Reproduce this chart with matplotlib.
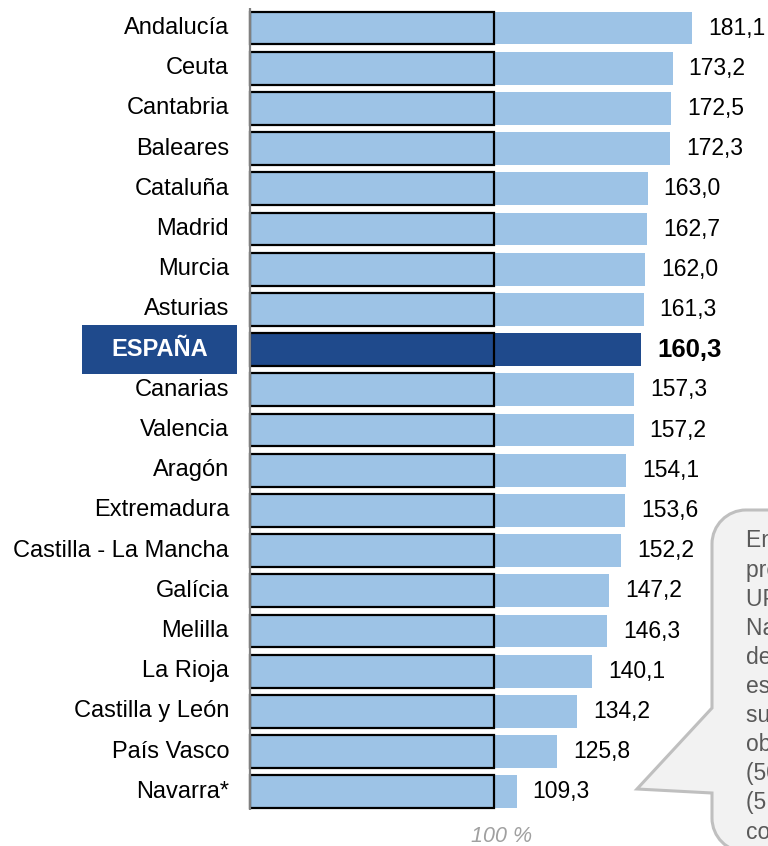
import matplotlib
matplotlib.use("Agg")
import matplotlib.pyplot as plt
from matplotlib.patches import Rectangle, PathPatch
from matplotlib.path import Path

plt.rcParams['font.family'] = ['Liberation Sans', 'DejaVu Sans']

regions = ["Andalucía", "Ceuta", "Cantabria", "Baleares", "Cataluña", "Madrid",
           "Murcia", "Asturias", "ESPAÑA", "Canarias", "Valencia", "Aragón",
           "Extremadura", "Castilla - La Mancha", "Galícia", "Melilla", "La Rioja",
           "Castilla y León", "País Vasco", "Navarra*"]
values = [181.1, 173.2, 172.5, 172.3, 163.0, 162.7, 162.0, 161.3, 160.3, 157.3,
          157.2, 154.1, 153.6, 152.2, 147.2, 146.3, 140.1, 134.2, 125.8, 109.3]
highlight = "ESPAÑA"
reference_value = 100
reference_label = "100 %"
callout_lines = ["En Navarra, los", "precios de la", "UPNA (Universidad",
                 "Navarra) son los", "de primera matrícula", "establecidos por",
                 "su Gobierno, que", "obliga a pagar", "(50,0 %)", "(5,0 %)",
                 "con respecto"]

LIGHT = "#9DC3E6"
DARK = "#1F4A8C"

W, H = 768, 846
PX_PER_UNIT = 2.44
X0 = 250
ROW0 = 28
PITCH = 40.2

fig = plt.figure(figsize=(W / 100, H / 100), dpi=100)
ax = fig.add_axes([0, 0, 1, 1])
ax.set_xlim(-X0 / PX_PER_UNIT, (W - X0) / PX_PER_UNIT)
ax.set_ylim((H - ROW0) / PITCH, -ROW0 / PITCH)
ax.axis('off')

h = 0.82
n = len(regions)
ypos = list(range(n))
colors = [DARK if r == highlight else LIGHT for r in regions]
ax.barh(ypos, values, height=h, color=colors, edgecolor='none', zorder=1)

for i, (r, v) in enumerate(zip(regions, values)):
    ax.add_patch(Rectangle((0, i - h / 2), reference_value, h, facecolor='none',
                           edgecolor='black', lw=1.6, zorder=2))
    lab = f"{v:.1f}".replace('.', ',')
    if r == highlight:
        ax.text(v + 16 / PX_PER_UNIT, i, lab, ha='left', va='center',
                fontsize=18.5, fontweight='bold', color='black')
        x_left = (82 - X0) / PX_PER_UNIT
        x_right = (237 - X0) / PX_PER_UNIT
        bh = 49 / PITCH
        ax.add_patch(Rectangle((x_left, i - bh / 2), x_right - x_left, bh,
                               facecolor=DARK, edgecolor='none', zorder=2,
                               clip_on=False))
        ax.text((x_left + x_right) / 2, i, r, ha='center', va='center',
                fontsize=17, fontweight='bold', color='white', zorder=3)
    else:
        ax.text(v + 16 / PX_PER_UNIT, i, lab, ha='left', va='center',
                fontsize=16.5, color='black')
        ax.text((229 - X0) / PX_PER_UNIT, i, r, ha='right', va='center',
                fontsize=17, color='black')

ax.plot([0, 0], [-0.5, n - 0.55], color='#808080', lw=1.6, zorder=4,
        solid_capstyle='butt')
ax.text(reference_value + 3, n + 0.12, reference_label, ha='center', va='center',
        fontsize=15.5, style='italic', color='#A0A0A0')

# callout bubble (pixel coordinates)
ax2 = fig.add_axes([0, 0, 1, 1])
ax2.set_xlim(0, W)
ax2.set_ylim(H, 0)
ax2.axis('off')
ax2.patch.set_alpha(0)

L, T, R, B, r = 712, 510, 820, 852, 34
k = 0.5523 * r
verts = [
    (L + r, T), (R, T), (R, B), (L + r, B),
    (L + r - k, B), (L, B - r + k), (L, B - r),
    (L, 793), (637, 789), (L, 708), (L, T + r),
    (L, T + r - k), (L + r - k, T), (L + r, T),
    (L + r, T),
]
codes = [Path.MOVETO, Path.LINETO, Path.LINETO, Path.LINETO,
         Path.CURVE4, Path.CURVE4, Path.CURVE4,
         Path.LINETO, Path.LINETO, Path.LINETO, Path.LINETO,
         Path.CURVE4, Path.CURVE4, Path.CURVE4,
         Path.CLOSEPOLY]
ax2.add_patch(PathPatch(Path(verts, codes), facecolor='#F2F2F2',
                        edgecolor='#BFBFBF', lw=2.2, joinstyle='miter'))
for j, line in enumerate(callout_lines):
    ax2.text(746, 541 + 29.1 * j, line, ha='left', va='center', fontsize=16.5,
             color='#595959')

fig.savefig("out.png", dpi=100)
